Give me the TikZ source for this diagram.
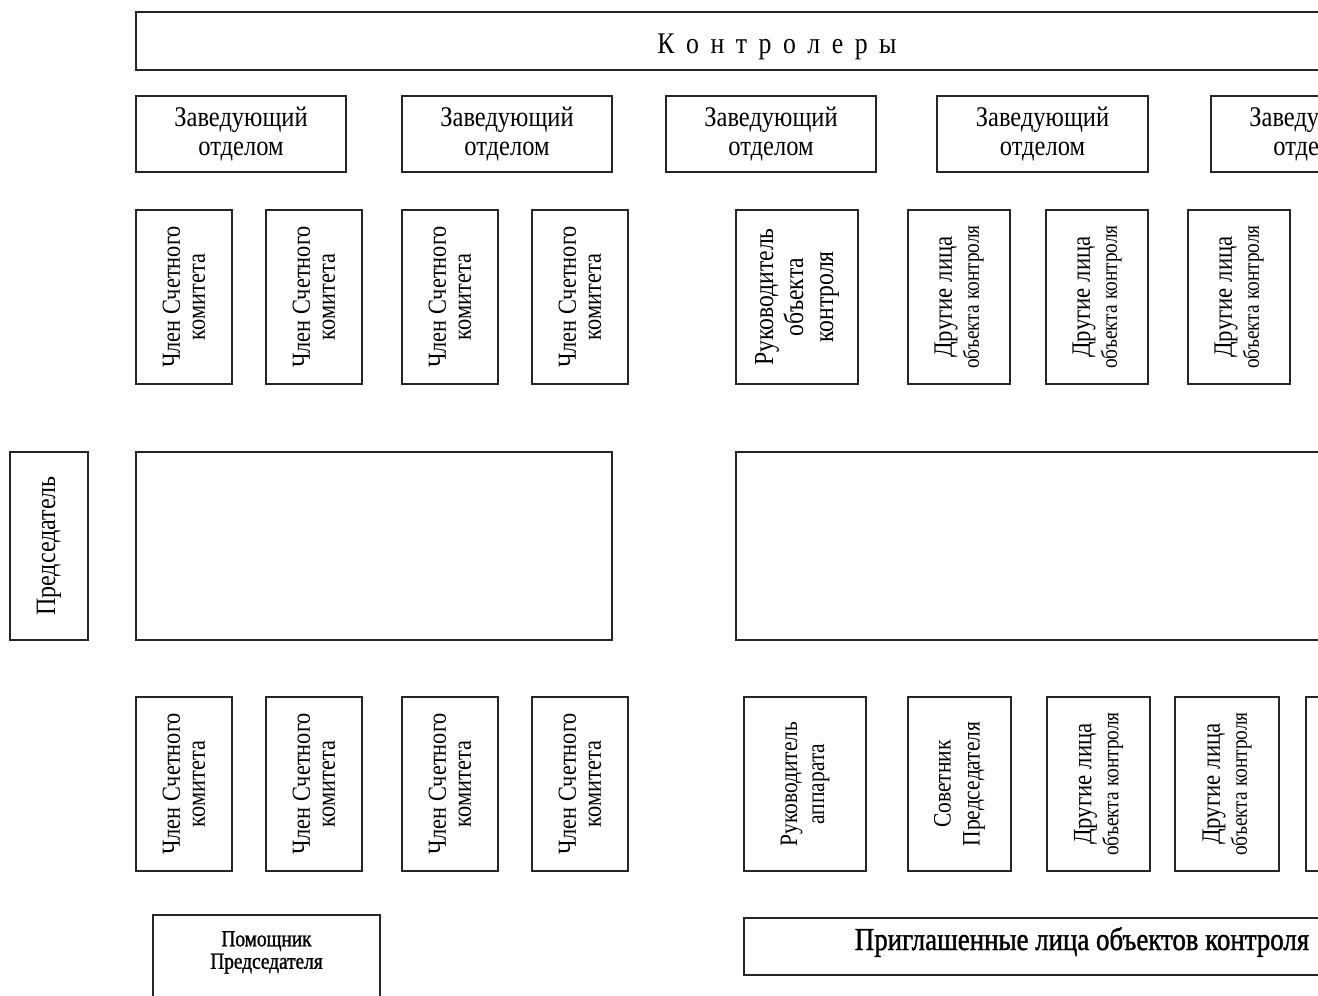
\documentclass[tikz,border=0pt]{standalone}
\usepackage{fontspec}
\setmainfont{Liberation Serif}[FakeStretch=0.86]
\newfontfamily\heavy{Liberation Serif}[FakeStretch=0.84,FakeBold=1.2]
\newcommand{\spacedtitle}{К\kern11.5pt о\kern11.5pt н\kern11.5pt т\kern11.5pt р\kern11.5pt о\kern11.5pt л\kern11.5pt е\kern11.5pt р\kern11.5pt ы}
\begin{document}
\begin{tikzpicture}[x=1pt,y=-1pt,
  box/.style={draw=black!85, line width=1.6pt, inner sep=0pt, align=center},
  vbox/.style={box, rotate=90, minimum width=174pt, minimum height=#1},
  fzav/.style={font=\fontsize{28.5}{29}\selectfont},
  fchl/.style={font=\fontsize{26}{25}\selectfont},
  fruk/.style={font=\fontsize{27.5}{30}\selectfont},
  fdr/.style={font=\fontsize{26.5}{27}\selectfont},
  fbot/.style={font=\fontsize{25}{27}\selectfont},
  fsov/.style={font=\fontsize{25}{29}\selectfont}]
\useasboundingbox (0,0) rectangle (1318,996);
\clip (0,0) rectangle (1318,996);
% top bar
\node[box, minimum width=1282pt, minimum height=58pt, font=\fontsize{30}{30}\selectfont, text height=24pt, text depth=0pt] (kontr) at (777,41) {\spacedtitle};
% heads of departments
\node[box, fzav, minimum width=210pt, minimum height=76pt] (z1) at (241,134) {Заведующий\\отделом};
\node[box, fzav, minimum width=210pt, minimum height=76pt] (z2) at (507,134) {Заведующий\\отделом};
\node[box, fzav, minimum width=210pt, minimum height=76pt] (z3) at (771,134) {Заведующий\\отделом};
\node[box, fzav, minimum width=211pt, minimum height=76pt] (z4) at (1042.5,134) {Заведующий\\отделом};
\node[box, fzav, minimum width=210pt, minimum height=76pt] (z5) at (1316,134) {Заведующий\\отделом};
% top row, left
\node[vbox=96pt, fchl] (t1) at (184,297) {Член Счетного\\комитета};
\node[vbox=96pt, fchl] (t2) at (314,297) {Член Счетного\\комитета};
\node[vbox=96pt, fchl] (t3) at (450,297) {Член Счетного\\комитета};
\node[vbox=96pt, fchl] (t4) at (580,297) {Член Счетного\\комитета};
% top row, right
\node[vbox=122pt, fruk] (t5) at (797,297) {Руководитель\\объекта\\контроля};
\node[vbox=102pt, fdr] (t6) at (959,297) {Другие лица\\\fontsize{22.5}{27}\selectfont объекта контроля};
\node[vbox=102pt, fdr] (t7) at (1097,297) {Другие лица\\\fontsize{22.5}{27}\selectfont объекта контроля};
\node[vbox=102pt, fdr] (t8) at (1239,297) {Другие лица\\\fontsize{22.5}{27}\selectfont объекта контроля};
% middle
\node[box, rotate=90, minimum width=188pt, minimum height=78pt, font=\fontsize{28}{28}\selectfont] (pred) at (49,546) {Председатель};
\node[box, minimum width=476pt, minimum height=188pt] (bigl) at (374,546) {};
\node[box, minimum width=684pt, minimum height=188pt] (bigr) at (1078,546) {};
% bottom row, left
\node[vbox=96pt, fchl] (b1) at (184,784) {Член Счетного\\комитета};
\node[vbox=96pt, fchl] (b2) at (314,784) {Член Счетного\\комитета};
\node[vbox=96pt, fchl] (b3) at (450,784) {Член Счетного\\комитета};
\node[vbox=96pt, fchl] (b4) at (580,784) {Член Счетного\\комитета};
% bottom row, right
\node[vbox=122pt, fbot] (b5) at (805,784) {Руководитель\\аппарата};
\node[vbox=103pt, fsov] (b6) at (959.5,784) {Советник\\Председателя};
\node[vbox=103pt, fdr] (b7) at (1098.5,784) {Другие лица\\\fontsize{22.5}{27}\selectfont объекта контроля};
\node[vbox=104pt, fdr] (b8) at (1227,784) {Другие лица\\\fontsize{22.5}{27}\selectfont объекта контроля};
\node[vbox=103pt] (b9) at (1357.5,784) {};
% lowest
\node[box, minimum width=227pt, minimum height=120pt, anchor=north] (pom) at (266.5,914) {};
\node[font=\heavy\fontsize{23}{22.5}\selectfont, align=center, anchor=north, inner sep=0pt] (pomt) at ([yshift=-17pt]pom.north) {Помощник\\Председателя};
\node[box, minimum width=676pt, minimum height=57pt, font=\heavy\fontsize{32}{32}\selectfont, text height=20pt, text depth=13pt] (prig) at (1082,946.5) {Приглашенные лица объектов контроля};
\end{tikzpicture}
\end{document}
